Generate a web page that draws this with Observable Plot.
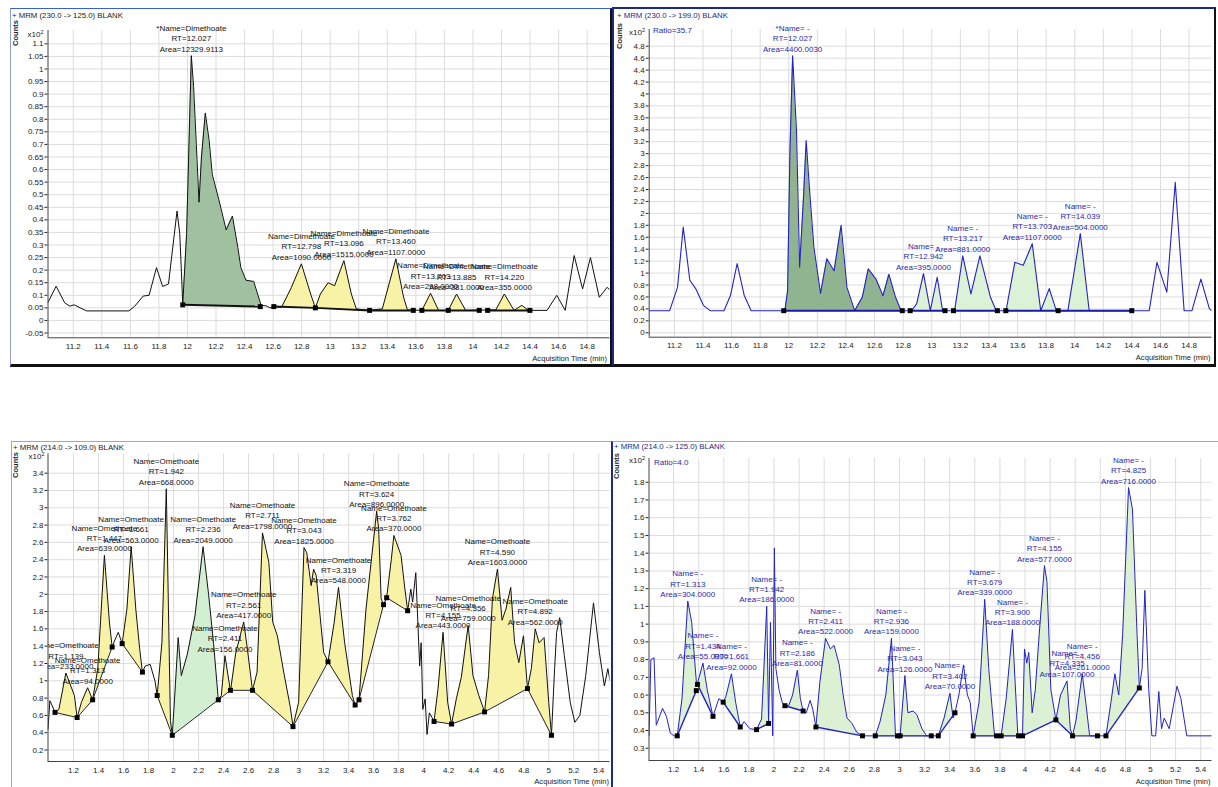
<!DOCTYPE html>
<html><head><meta charset="utf-8">
<script src="https://cdn.jsdelivr.net/npm/d3@7"></script>
<script src="https://cdn.jsdelivr.net/npm/@observablehq/plot@0.6"></script>
<style>
html,body{margin:0;padding:0;background:#fff;}
body{width:1218px;height:787px;overflow:hidden;position:relative;font-family:"Liberation Sans",Arial,sans-serif;}
.abs{position:absolute;}
.frame{position:absolute;box-sizing:border-box;pointer-events:none;}
.txt{position:absolute;white-space:nowrap;line-height:12px;height:12px;}
</style></head><body>
<script>
// ---------- DATA ----------
// Panel A: + MRM (230.0 -> 125.0) BLANK  (time min, counts x10^2)
const tlTrace = [[11.023,0.072],[11.08,0.136],[11.14,0.07],[11.175,0.057],[11.207,0.062],[11.248,0.05],[11.294,0.038],[11.59,0.038],[11.628,0.055],[11.69,0.097],[11.731,0.1],[11.783,0.21],[11.826,0.135],[11.867,0.145],[11.927,0.435],[11.946,0.345],[11.967,0.066],[11.994,0.345],[12.027,1.053],[12.043,0.93],[12.062,0.70],[12.081,0.47],[12.098,0.65],[12.125,0.825],[12.152,0.715],[12.174,0.58],[12.22,0.48],[12.271,0.36],[12.315,0.415],[12.353,0.29],[12.374,0.21],[12.41,0.16],[12.464,0.155],[12.516,0.06],[12.551,0.058],[12.578,0.05],[12.605,0.055],[12.659,0.052],[12.727,0.13],[12.798,0.225],[12.863,0.105],[12.896,0.05],[12.931,0.105],[12.985,0.15],[13.031,0.138],[13.096,0.238],[13.148,0.105],[13.183,0.046],[13.27,0.04],[13.365,0.046],[13.46,0.245],[13.514,0.092],[13.541,0.042],[13.642,0.04],[13.703,0.108],[13.759,0.04],[13.827,0.04],[13.885,0.105],[13.949,0.04],[14.16,0.042],[14.22,0.105],[14.288,0.04],[14.342,0.06],[14.389,0.04],[14.519,0.04],[14.587,0.1],[14.646,0.04],[14.709,0.258],[14.768,0.125],[14.823,0.25],[14.885,0.092],[14.94,0.132],[14.96,0.12]];
const tlMarkers = [[11.967,0.062],[12.51,0.055],[12.605,0.055],[12.896,0.05],[13.276,0.04],[13.582,0.04],[13.642,0.04],[13.827,0.04],[14.044,0.04],[14.103,0.04],[14.399,0.04]];
const tlRegions = [[0,1],[2,3],[3,4],[4,5],[6,7],[7,8],[9,10]];
const tlRT = [12.027,12.798,13.096,13.460,13.703,13.885,14.220];
const tlApex = [1.053,0.225,0.238,0.245,0.108,0.105,0.105];
const tlArea = ["12329.9113","1090.0000","1515.0000","1107.0000","298.0000","381.0000","355.0000"];
const tlXTicks = [11.2,11.4,11.6,11.8,12,12.2,12.4,12.6,12.8,13,13.2,13.4,13.6,13.8,14,14.2,14.4,14.6,14.8];
const tlYTicks = [-0.05,0,0.05,0.1,0.15,0.2,0.25,0.3,0.35,0.4,0.45,0.5,0.55,0.6,0.65,0.7,0.75,0.8,0.85,0.9,0.95,1,1.05,1.1];

// Panel B: + MRM (230.0 -> 199.0) BLANK
const trTrace = [[11.024,0.37],[11.167,0.37],[11.222,0.76],[11.262,1.77],[11.308,0.88],[11.349,0.74],[11.403,0.46],[11.45,0.37],[11.547,0.37],[11.593,0.63],[11.639,1.16],[11.688,0.63],[11.737,0.37],[11.973,0.37],[11.992,0.71],[12.008,3.02],[12.027,4.64],[12.054,3.39],[12.076,1.1],[12.103,2.27],[12.122,3.22],[12.144,2.44],[12.176,1.43],[12.222,0.66],[12.266,1.24],[12.317,1.04],[12.366,1.8],[12.407,0.76],[12.461,0.37],[12.515,0.6],[12.556,1.07],[12.61,0.9],[12.659,0.62],[12.7,0.98],[12.746,0.6],[12.786,0.37],[12.86,0.37],[12.895,0.49],[12.942,0.99],[12.99,0.37],[13.038,0.93],[13.076,0.37],[13.16,0.37],[13.217,1.29],[13.274,0.65],[13.337,1.29],[13.41,0.6],[13.451,0.37],[13.52,0.37],[13.581,1.18],[13.64,1.13],[13.703,1.49],[13.762,0.37],[13.822,0.74],[13.871,0.37],[13.952,0.37],[14.039,1.66],[14.101,0.37],[14.521,0.37],[14.575,1.18],[14.644,0.68],[14.703,2.52],[14.765,0.37],[14.82,0.37],[14.882,0.9],[14.942,0.4],[14.96,0.37]];
const trMarkers = [[11.965,0.37],[12.794,0.37],[12.849,0.37],[13.093,0.37],[13.152,0.37],[13.459,0.37],[13.518,0.37],[13.884,0.37],[14.399,0.37]];
const trRegions = [[0,1],[2,3],[4,5],[6,7],[7,8]];
const trRT = [12.027,12.942,13.217,13.703,14.039];
const trApex = [4.64,0.99,1.29,1.49,1.66];
const trArea = ["4400.0030","395.0000","881.0000","1107.0000","504.0000"];
const trXTicks = tlXTicks;
const trYTicks = [0,0.2,0.4,0.6,0.8,1,1.2,1.4,1.6,1.8,2,2.2,2.4,2.6,2.8,3,3.2,3.4,3.6,3.8,4,4.2,4.4,4.6,4.8];

// Panel C: + MRM (214.0 -> 109.0) BLANK
const blTrace = [[0.996,0.44],[1.011,0.77],[1.03,0.71],[1.052,0.635],[1.083,0.67],[1.139,1.09],[1.207,0.83],[1.229,0.575],[1.263,0.75],[1.313,0.92],[1.353,0.78],[1.394,1.14],[1.447,2.45],[1.487,1.68],[1.509,1.39],[1.533,1.48],[1.558,1.56],[1.589,1.43],[1.627,1.83],[1.661,2.55],[1.698,1.83],[1.729,1.37],[1.751,1.1],[1.773,1.17],[1.813,1.19],[1.851,1.0],[1.869,0.83],[1.907,1.44],[1.942,3.22],[1.975,0.54],[1.99,0.37],[2.015,0.96],[2.037,1.5],[2.062,1.06],[2.109,1.3],[2.171,1.75],[2.236,2.55],[2.28,2.0],[2.32,1.43],[2.358,0.78],[2.382,0.83],[2.411,1.29],[2.455,0.88],[2.497,1.32],[2.561,1.68],[2.591,1.36],[2.631,0.89],[2.668,1.1],[2.711,2.71],[2.762,2.37],[2.793,1.68],[2.83,1.52],[2.886,1.06],[2.933,0.7],[2.955,0.47],[3.0,0.75],[3.043,2.54],[3.065,2.48],[3.1,2.1],[3.12,2.29],[3.14,2.22],[3.2,1.33],[3.235,1.22],[3.284,1.67],[3.319,2.08],[3.368,1.44],[3.43,0.83],[3.452,0.72],[3.483,0.78],[3.539,1.83],[3.624,2.96],[3.64,2.76],[3.66,1.95],[3.679,1.88],[3.704,1.96],[3.741,2.4],[3.762,2.68],[3.819,2.45],[3.85,2.06],[3.872,1.81],[3.897,2.06],[3.912,1.91],[3.937,2.25],[3.968,1.17],[3.98,1.44],[3.993,0.67],[4.012,0.79],[4.027,0.38],[4.046,0.63],[4.083,0.53],[4.114,0.9],[4.155,1.56],[4.192,0.75],[4.223,0.5],[4.261,0.79],[4.301,1.04],[4.356,1.64],[4.394,1.06],[4.441,0.83],[4.487,0.64],[4.519,1.06],[4.55,1.95],[4.59,2.29],[4.627,1.7],[4.658,1.83],[4.696,2.08],[4.727,1.44],[4.761,1.21],[4.798,1.52],[4.83,0.91],[4.861,1.14],[4.892,1.6],[4.923,1.44],[4.963,1.5],[5.0,0.75],[5.022,0.37],[5.047,1.14],[5.063,1.56],[5.088,1.73],[5.125,1.29],[5.172,0.75],[5.209,0.52],[5.249,0.6],[5.296,1.06],[5.358,1.9],[5.405,1.33],[5.445,0.94],[5.473,1.14],[5.49,1.0]];
const blMarkers = [[1.052,0.635],[1.229,0.575],[1.353,0.78],[1.509,1.39],[1.589,1.43],[1.751,1.1],[1.869,0.83],[1.99,0.37],[2.358,0.78],[2.455,0.89],[2.631,0.89],[2.955,0.47],[3.235,1.22],[3.452,0.72],[3.483,0.78],[3.679,1.88],[3.704,1.96],[3.872,1.81],[4.083,0.53],[4.223,0.5],[4.487,0.64],[4.83,0.91],[5.022,0.37]];
const blRegions = [[0,1],[1,2],[2,3],[4,5],[6,7],[7,8],[8,9],[9,10],[10,11],[11,12],[12,13],[14,15],[16,17],[18,19],[19,20],[20,21],[21,22]];
const blSelected = 5;
const blRT = [1.139,1.313,1.447,1.661,1.942,2.236,2.411,2.561,2.711,3.043,3.319,3.624,3.762,4.155,4.356,4.590,4.892];
const blApex = [1.09,0.92,2.45,2.55,3.22,2.55,1.29,1.68,2.71,2.54,2.08,2.96,2.68,1.56,1.64,2.29,1.6];
const blArea = ["233.0000","94.0000","639.0000","563.0000","668.0000","2049.0000","156.0000","417.0000","1798.0000","1825.0000","548.0000","896.0000","370.0000","443.0000","759.0000","1603.0000","562.0000"];
const blXTicks = [1.2,1.4,1.6,1.8,2,2.2,2.4,2.6,2.8,3,3.2,3.4,3.6,3.8,4,4.2,4.4,4.6,4.8,5,5.2,5.4];
const blYTicks = [0.2,0.4,0.6,0.8,1,1.2,1.4,1.6,1.8,2,2.2,2.4,2.6,2.8,3,3.2,3.4];

// Panel D: + MRM (214.0 -> 125.0) BLANK
const brTrace = [[1.004,0.37],[1.019,0.8],[1.044,0.81],[1.062,0.43],[1.112,0.525],[1.143,0.48],[1.174,0.385],[1.205,0.37],[1.229,0.37],[1.267,0.58],[1.313,1.13],[1.344,1.01],[1.384,0.65],[1.434,0.78],[1.468,0.63],[1.514,0.48],[1.561,0.58],[1.595,0.56],[1.616,0.59],[1.661,0.72],[1.694,0.56],[1.731,0.42],[1.762,0.45],[1.808,0.41],[1.861,0.405],[1.901,0.465],[1.942,1.1],[1.957,0.44],[1.972,1.01],[1.99,0.37],[2.003,1.43],[2.015,0.75],[2.04,0.63],[2.065,0.56],[2.087,0.54],[2.117,0.54],[2.148,0.6],[2.186,0.74],[2.21,0.58],[2.232,0.51],[2.257,0.5],[2.288,0.57],[2.309,0.52],[2.334,0.42],[2.365,0.67],[2.411,0.92],[2.449,0.86],[2.479,0.88],[2.52,0.77],[2.551,0.6],[2.582,0.47],[2.622,0.44],[2.659,0.39],[2.705,0.37],[2.807,0.37],[2.845,0.45],[2.891,0.6],[2.936,0.92],[2.968,0.37],[3.005,0.37],[3.043,0.71],[3.067,0.5],[3.107,0.51],[3.138,0.49],[3.179,0.41],[3.216,0.37],[3.309,0.37],[3.355,0.47],[3.402,0.61],[3.427,0.47],[3.442,0.5],[3.473,0.6],[3.51,0.77],[3.541,0.6],[3.563,0.56],[3.587,0.37],[3.634,0.56],[3.679,1.14],[3.711,0.75],[3.757,0.37],[3.81,0.37],[3.85,0.58],[3.9,0.97],[3.943,0.37],[3.98,0.37],[3.996,0.86],[4.014,0.78],[4.03,0.84],[4.057,0.5],[4.082,0.63],[4.113,0.94],[4.155,1.33],[4.175,1.24],[4.206,0.63],[4.246,0.46],[4.283,0.6],[4.335,0.68],[4.361,0.41],[4.379,0.37],[4.407,0.46],[4.456,0.72],[4.484,0.56],[4.515,0.37],[4.645,0.37],[4.685,0.56],[4.716,0.72],[4.747,0.6],[4.778,0.94],[4.825,1.77],[4.856,1.65],[4.893,0.94],[4.911,0.64],[4.933,0.75],[4.955,1.19],[4.986,0.63],[5.011,0.37],[5.041,0.37],[5.066,0.62],[5.088,0.41],[5.109,0.47],[5.149,0.41],[5.211,0.65],[5.242,0.58],[5.289,0.37],[5.49,0.37]];
const brMarkers = [[1.229,0.37],[1.381,0.625],[1.39,0.66],[1.514,0.48],[1.595,0.56],[1.731,0.42],[1.861,0.405],[1.957,0.44],[2.087,0.54],[2.232,0.51],[2.334,0.42],[2.705,0.37],[2.807,0.37],[2.984,0.37],[3.005,0.37],[3.253,0.37],[3.309,0.37],[3.442,0.5],[3.587,0.37],[3.773,0.37],[3.81,0.37],[3.949,0.37],[3.98,0.37],[4.246,0.46],[4.379,0.37],[4.577,0.37],[4.645,0.37],[4.911,0.64]];
const brRegions = [[0,1],[2,3],[4,5],[6,7],[8,9],[10,11],[12,13],[14,15],[16,17],[18,19],[20,21],[22,23],[23,24],[24,25],[26,27]];
const brRT = [1.313,1.434,1.661,1.942,2.186,2.411,2.936,3.043,3.402,3.679,3.900,4.155,4.335,4.456,4.825];
const brApex = [1.13,0.78,0.72,1.1,0.74,0.92,0.92,0.71,0.61,1.14,0.97,1.33,0.68,0.72,1.77];
const brArea = ["304.0000","55.0000","92.0000","186.0000","81.0000","522.0000","159.0000","126.0000","70.0000","339.0000","188.0000","577.0000","107.0000","261.0000","716.0000"];
const brXTicks = blXTicks;
const brYTicks = [0.3,0.4,0.5,0.6,0.7,0.8,0.9,1,1.1,1.2,1.3,1.4,1.5,1.6,1.7,1.8];

// ---------- DRAWING ----------
const FONT = '"Liberation Sans",Arial,sans-serif';
const GRID = "#dcdcdc";
const fmt = d => String(Math.round(d * 100) / 100);

function interp(trace, t) {
  for (let i = 1; i < trace.length; i++) {
    const [t0, v0] = trace[i - 1], [t1, v1] = trace[i];
    if (t >= t0 && t <= t1) return t1 === t0 ? v1 : v0 + (v1 - v0) * (t - t0) / (t1 - t0);
  }
  return trace[trace.length - 1][1];
}
function regionFill(trace, marks, regions) {
  const out = [];
  regions.forEach(([a, b], k) => {
    const [ta, ba] = marks[a], [tb, bb] = marks[b];
    const base = t => ba + (bb - ba) * (t - ta) / (tb - ta);
    const pts = [[ta, interp(trace, ta)], ...trace.filter(([t]) => t > ta && t < tb), [tb, interp(trace, tb)]];
    for (const [t, v] of pts) out.push({region: k, t, v, b: base(t)});
  });
  return out;
}

function addText(txt, x, y, o = {}) {
  const d = document.createElement("div");
  d.className = "txt";
  d.innerHTML = txt;
  d.style.fontSize = (o.size || 8) + "px";
  d.style.color = o.color || "#111";
  if (o.bold) d.style.fontWeight = "bold";
  if (o.rotate) {
    d.style.left = x + "px"; d.style.top = y + "px";
    d.style.transform = "translate(-50%,-50%) rotate(-90deg)";
  } else if (o.anchor === "end") {
    d.style.right = (1218 - x) + "px"; d.style.top = (y - 6) + "px";
  } else {
    d.style.left = x + "px"; d.style.top = (y - 6) + "px";
  }
  document.body.appendChild(d);
}
function addFrame(x, y, w, h, css) {
  const d = document.createElement("div");
  d.className = "frame";
  Object.assign(d.style, {left: x + "px", top: y + "px", width: w + "px", height: h + "px"}, css);
  document.body.appendChild(d);
}

function drawPanel(p) {
  const fill = regionFill(p.trace, p.markers, p.regions);
  const baselines = p.regions.map(([a, b]) => ({t1: p.markers[a][0], b1: p.markers[a][1], t2: p.markers[b][0], b2: p.markers[b][1]}));
  const labels = p.rt.map((rt, i) => ({
    rt, apex: p.apex[i],
    text: `${i === 0 && p.star ? "*" : ""}Name=${p.name}\nRT=${rt.toFixed(3)}\nArea=${p.area[i]}`
  }));
  const plot = Plot.plot({
    width: p.w, height: p.h,
    marginLeft: p.ml, marginRight: p.mr, marginTop: p.mt, marginBottom: p.mb,
    style: {fontFamily: FONT, fontSize: "8px", color: "#222", background: "transparent", overflow: "visible"},
    x: {domain: p.xDomain, ticks: p.xTicks, tickFormat: fmt, tickSize: 0, tickPadding: 5.5, label: null},
    y: {domain: p.yDomain, ticks: p.yTicks, tickFormat: fmt, tickSize: 3, tickPadding: 1.5, label: null},
    marks: [
      Plot.ruleX(p.xTicks, {stroke: GRID, strokeWidth: 1}),
      Plot.ruleY(p.yTicks, {stroke: GRID, strokeWidth: 1}),
      Plot.areaY(fill.filter(d => p.major.includes(d.region)), {x: "t", y1: "b", y2: "v", z: "region", fill: p.majorFill, clip: true}),
      Plot.areaY(fill.filter(d => !p.major.includes(d.region)), {x: "t", y1: "b", y2: "v", z: "region", fill: p.minorFill, clip: true}),
      Plot.line(p.trace, {x: d => d[0], y: d => d[1], stroke: p.stroke, strokeWidth: p.lineWidth, clip: true}),
      Plot.link(baselines, {x1: "t1", y1: "b1", x2: "t2", y2: "b2", stroke: p.baseStroke, strokeWidth: p.baseWidth, clip: true}),
      Plot.dot(p.markers, {x: d => d[0], y: d => d[1], symbol: "square", r: 2.8, fill: "#000", stroke: "none"}),
      Plot.text(labels, {x: "rt", y: "apex", text: "text", lineAnchor: "bottom", dy: -4, fontSize: 8, lineHeight: 1.3, fill: p.labelColor, clip: p.clipLabels}),
      Plot.ruleX([p.xDomain[0]], {stroke: "#444"}),
      Plot.ruleY([p.yDomain[0]], {stroke: "#444"})
    ]
  });
  const wrap = document.createElement("div");
  wrap.className = "abs";
  wrap.style.left = p.x + "px"; wrap.style.top = p.y + "px";
  wrap.appendChild(plot);
  document.body.appendChild(wrap);
}

const NAVY = "#1c2a86", BLUE = "#2323c4", LBLUE = "#2a2aa6";

drawPanel({x: 10, y: 8, w: 601, h: 357, ml: 37.5, mr: 1.5, mt: 22, mb: 27.7,
  xDomain: [11.023, 14.96], yDomain: [-0.069, 1.153], xTicks: tlXTicks, yTicks: tlYTicks,
  trace: tlTrace, markers: tlMarkers, regions: tlRegions, major: [0],
  majorFill: "#a0c1a0", minorFill: "#f7f2a6", stroke: "#111", baseStroke: "#111", lineWidth: 1, baseWidth: 2,
  rt: tlRT, apex: tlApex, area: tlArea, name: "Dimethoate", star: true, labelColor: "#111", clipLabels: false});
drawPanel({x: 612, y: 8, w: 602, h: 359, ml: 36.7, mr: 2.5, mt: 21, mb: 30.3,
  xDomain: [11.024, 14.96], yDomain: [-0.074, 5.08], xTicks: trXTicks, yTicks: trYTicks,
  trace: trTrace, markers: trMarkers, regions: trRegions, major: [0],
  majorFill: "#90b390", minorFill: "#dcf2d6", stroke: BLUE, baseStroke: "#1a1aa8", lineWidth: 1.1, baseWidth: 2,
  rt: trRT, apex: trApex, area: trArea, name: " -", star: true, labelColor: LBLUE, clipLabels: false});
drawPanel({x: 11, y: 441, w: 600, h: 346, ml: 36.5, mr: 1.5, mt: 12.3, mb: 26,
  xDomain: [0.996, 5.49], yDomain: [0.067, 3.624], xTicks: blXTicks, yTicks: blYTicks,
  trace: blTrace, markers: blMarkers, regions: blRegions, major: [blSelected],
  majorFill: "#d2efd2", minorFill: "#f7f2a6", stroke: "#111", baseStroke: "#222", lineWidth: 1, baseWidth: 1,
  rt: blRT, apex: blApex, area: blArea, name: "Omethoate", star: false, labelColor: "#111", clipLabels: true});
drawPanel({x: 612, y: 441, w: 602, h: 346, ml: 36.5, mr: 2.5, mt: 17, mb: 27,
  xDomain: [1.004, 5.49], yDomain: [0.231, 1.934], xTicks: brXTicks, yTicks: brYTicks,
  trace: brTrace, markers: brMarkers, regions: brRegions, major: [],
  majorFill: "#dcf0d4", minorFill: "#dcf0d4", stroke: BLUE, baseStroke: "#2323c4", lineWidth: 1, baseWidth: 1.4,
  rt: brRT, apex: brApex, area: brArea, name: " -", star: false, labelColor: LBLUE, clipLabels: false});

// frames
addFrame(10, 8, 602, 359, {borderTop: "1px solid #3a5fd0", borderLeft: "1px solid #8da2c8", borderRight: "2px solid #111", borderBottom: "3px solid #111"});
addFrame(612, 7, 604, 360, {borderTop: "2px solid " + NAVY, borderLeft: "2px solid " + NAVY, borderRight: "2px solid #111", borderBottom: "3px solid #111"});
addFrame(11, 441, 601, 346, {borderTop: "1px solid #9aa8c0", borderLeft: "1px solid #9aa8c0"});
addFrame(611, 441, 607, 346, {borderTop: "1px solid #9aa8c0", borderLeft: "2px solid " + NAVY});

// panel texts
const SUP = "x10<sup style='font-size:5.5px;vertical-align:3px'>2</sup>";
addText("+ MRM (230.0 -&gt; 125.0) BLANK", 12, 15.5, {size: 7.8, color: "#222"});
addText("Counts", 16, 33, {size: 7.5, rotate: true, bold: true, color: "#222"});
addText(SUP, 43.5, 32, {size: 8, anchor: "end", color: "#222"});
addText("Acquisition Time (min)", 607, 358.5, {size: 7.6, anchor: "end", color: "#222"});

addText("+ MRM (230.0 -&gt; 199.0) BLANK", 617, 15.5, {size: 7.8, color: NAVY});
addText("Counts", 620, 36, {size: 7.5, rotate: true, bold: true, color: "#222"});
addText(SUP, 645, 30, {size: 8, anchor: "end", color: "#222"});
addText("Ratio=35.7", 653, 31, {size: 8, color: LBLUE});
addText("Acquisition Time (min)", 1210.5, 358.3, {size: 7.6, anchor: "end", color: "#222"});

addText("+ MRM (214.0 -&gt; 109.0) BLANK", 13, 448, {size: 7.8, color: "#222"});
addText("Counts", 16, 465, {size: 7.5, rotate: true, bold: true, color: "#222"});
addText(SUP, 44.5, 453.5, {size: 8, anchor: "end", color: "#222"});
addText("Acquisition Time (min)", 609, 781.7, {size: 7.6, anchor: "end", color: "#222"});

addText("+ MRM (214.0 -&gt; 125.0) BLANK", 614, 447, {size: 7.8, color: NAVY});
addText("Counts", 617, 466, {size: 7.5, rotate: true, bold: true, color: "#222"});
addText(SUP, 645, 458, {size: 8, anchor: "end", color: "#222"});
addText("Ratio=4.0", 654, 462.7, {size: 8, color: LBLUE});
addText("Acquisition Time (min)", 1210.5, 781.7, {size: 7.6, anchor: "end", color: "#222"});
</script>
</body></html>
